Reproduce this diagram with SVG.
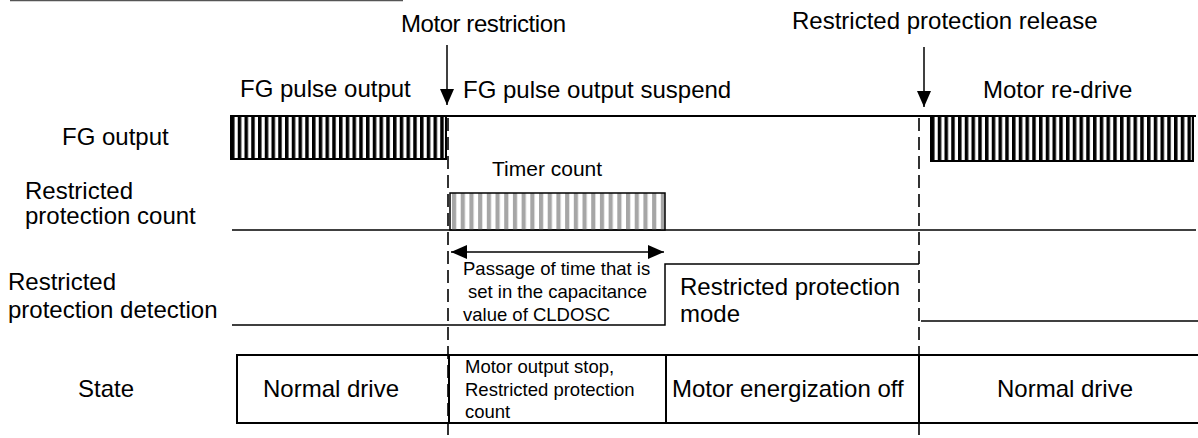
<svg xmlns="http://www.w3.org/2000/svg" width="1198" height="438" viewBox="0 0 1198 438">
<style>
.t{font-family:"Liberation Sans",Arial,sans-serif;fill:#000}
.L{font-size:24px}
.S{font-size:18.5px}
.M{font-size:21px}
.ln{stroke:#000;stroke-width:2;fill:none}
.thin{stroke:#000;stroke-width:1.5;fill:none}
.dash{stroke:#000;stroke-width:1.6;fill:none;stroke-dasharray:13,6}
</style>
<defs>
<pattern id="fgp" patternUnits="userSpaceOnUse" x="231" y="0" width="6.75" height="10">
<rect x="0" y="0" width="3.5" height="10" fill="#000"/>
</pattern>
<pattern id="fgp2" patternUnits="userSpaceOnUse" x="931" y="0" width="6.75" height="10">
<rect x="0" y="0" width="3.5" height="10" fill="#000"/>
</pattern>
<pattern id="tmp" patternUnits="userSpaceOnUse" x="452" y="0" width="8.7" height="10">
<rect x="0" y="0" width="4.2" height="10" fill="#a6a6a6"/>
</pattern>
<marker id="ah" viewBox="0 0 16 14" refX="16" refY="7" markerWidth="16" markerHeight="14" markerUnits="userSpaceOnUse" orient="auto-start-reverse">
<path d="M0,0 L16,7 L0,14 Z" fill="#000"/>
</marker>
</defs>

<line x1="10" y1="0.5" x2="403" y2="0.5" stroke="#555" stroke-width="1.5"/>

<g id="labels">
<text class="t L" x="401" y="32" textLength="165">Motor restriction</text>
<text class="t L" x="792" y="29">Restricted protection release</text>
<text class="t L" x="240" y="97">FG pulse output</text>
<text class="t L" x="463" y="98">FG pulse output suspend</text>
<text class="t L" x="983" y="98">Motor re-drive</text>
</g>

<g id="row-labels">
<text class="t L" x="62" y="145">FG output</text>
<text class="t L" x="25" y="199">Restricted</text>
<text class="t L" x="25" y="224">protection count</text>
<text class="t L" x="8" y="290">Restricted</text>
<text class="t L" x="8" y="318">protection detection</text>
<text class="t L" x="78" y="397">State</text>
</g>

<g id="fg-output">
<line class="ln" x1="230" y1="116" x2="1196" y2="116"/>
<rect x="231" y="116" width="215" height="43" fill="url(#fgp)" stroke="#000" stroke-width="2"/>
<rect x="931" y="116" width="262" height="45" fill="url(#fgp2)" stroke="#000" stroke-width="2"/>
</g>

<g id="count">
<line class="thin" x1="232" y1="230" x2="1196" y2="230"/>
<rect x="450" y="193" width="215" height="37" fill="url(#tmp)" stroke="#000" stroke-width="1.5"/>
<text class="t M" x="492" y="176">Timer count</text>
</g>

<g id="detection">
<polyline class="thin" points="232,325 665,325 665,264 919,264"/>
<line class="thin" x1="921" y1="321" x2="1198" y2="321"/>
<text class="t S" x="463" y="275">Passage of time that is</text>
<text class="t S" x="468" y="298">set in the capacitance</text>
<text class="t S" x="463" y="321">value of CLDOSC</text>
<text class="t L" x="680" y="295">Restricted protection</text>
<text class="t L" x="680" y="322">mode</text>
</g>

<g id="state">
<polyline class="ln" points="1198,355 237,355 237,423 1198,423"/>
<line class="ln" x1="449" y1="355" x2="449" y2="423"/>
<line class="ln" x1="666" y1="355" x2="666" y2="423"/>
<line class="ln" x1="919" y1="355" x2="919" y2="423"/>
<text class="t L" x="263" y="397">Normal drive</text>
<text class="t S" x="465" y="373">Motor output stop,</text>
<text class="t S" x="465" y="396">Restricted protection</text>
<text class="t S" x="465" y="418">count</text>
<text class="t L" x="672" y="397">Motor energization off</text>
<text class="t L" x="997" y="397">Normal drive</text>
</g>

<g id="connectors">
<line class="dash" x1="448" y1="118" x2="448" y2="438"/>
<line class="dash" x1="919" y1="118" x2="919" y2="438"/>
<line class="thin" x1="447" y1="45" x2="447" y2="105" marker-end="url(#ah)"/>
<line class="thin" x1="924" y1="47" x2="924" y2="107" marker-end="url(#ah)"/>
<line class="thin" x1="451" y1="252" x2="664" y2="252" marker-start="url(#ah)" marker-end="url(#ah)"/>
</g>
</svg>
